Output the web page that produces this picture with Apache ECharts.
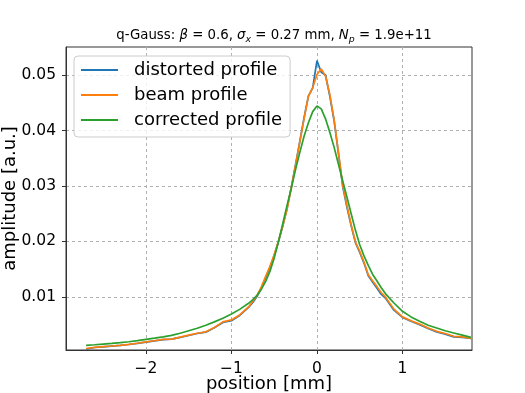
<!DOCTYPE html>
<html>
<head>
<meta charset="utf-8">
<script src="https://cdn.jsdelivr.net/npm/echarts@6/dist/echarts.min.js"></script>
<style>html,body{margin:0;padding:0;background:#fff}#c{width:525px;height:393px}</style>
</head>
<body>
<div id="c"></div>
<script>
const positions = [-2.7,-2.6,-2.5,-2.4,-2.3,-2.2,-2.1,-2.0,-1.9,-1.8,-1.7,-1.6,-1.5,-1.4,-1.3,-1.2,-1.1,-1.0,-0.9,-0.8,
  -0.75,-0.7,-0.65,-0.6,-0.55,-0.5,-0.45,-0.4,-0.35,-0.3,-0.25,-0.2,-0.15,-0.1,-0.05,0,0.05,0.1,0.15,0.2,0.25,0.3,0.35,0.4,0.45,0.5,0.55,0.6,0.65,0.7,0.75,0.8,
  0.9,1.0,1.1,1.2,1.3,1.4,1.5,1.6,1.7,1.8];
const distorted = [0.00060,0.00088,0.00100,0.00113,0.00126,0.00142,0.00163,0.00186,0.00208,0.00230,0.00238,0.00270,0.00305,0.00340,0.00365,0.00445,0.00540,0.00570,0.00670,0.00810,
  0.0090,0.0101,0.0116,0.0135,0.0153,0.0175,0.0200,0.0228,0.0259,0.0298,0.0339,0.0381,0.0424,0.0462,0.0477,0.0526,0.0505,0.0500,0.0462,0.0418,0.0360,0.0300,0.0262,0.0228,0.0198,0.0180,0.0161,0.0138,0.0127,0.0116,0.0105,0.0098,
  0.0076,0.0063,0.0056,0.0050,0.0043,0.0037,0.0033,0.0028,0.0027,0.0025];
const beam = [0.00070,0.00090,0.00103,0.00115,0.00128,0.00145,0.00165,0.00190,0.00210,0.00235,0.00240,0.00275,0.00310,0.00345,0.00370,0.00450,0.00550,0.00585,0.00680,0.00820,
  0.0092,0.0103,0.0118,0.0137,0.0155,0.0176,0.0201,0.0228,0.0258,0.0297,0.0338,0.0380,0.0422,0.0462,0.0477,0.0501,0.0511,0.0498,0.0465,0.0420,0.0362,0.0302,0.0265,0.0230,0.0199,0.0182,0.0163,0.0140,0.0129,0.0119,0.0108,0.0100,
  0.0078,0.0064,0.0057,0.0051,0.0044,0.0038,0.0034,0.0029,0.0028,0.0025];
const corrected = [0.00128,0.00138,0.00150,0.00162,0.00176,0.00192,0.00212,0.00234,0.00256,0.00280,0.00308,0.00345,0.00390,0.00435,0.00490,0.00550,0.00615,0.00690,0.00780,0.00885,
  0.0095,0.0103,0.0114,0.0128,0.0146,0.0170,0.0200,0.0232,0.0265,0.0296,0.0330,0.0361,0.0390,0.0414,0.0434,0.0444,0.0439,0.0421,0.0397,0.0370,0.0340,0.0310,0.0280,0.0250,0.0220,0.0194,0.0174,0.0157,0.0141,0.0129,0.0117,0.0106,
  0.0089,0.0074,0.0064,0.0056,0.0049,0.0044,0.0039,0.0035,0.0031,0.0027];
const seriesNames = ['distorted profile','beam profile','corrected profile'];
const xTicks = [-2,-1,0,1];
const yTicks = [0.01,0.02,0.03,0.04,0.05];

const chart = echarts.init(document.getElementById('c'), null, {renderer:'canvas'});
const font = 'DejaVu Sans';
const pair = arr => positions.map((x,i)=>[x,arr[i]]);
chart.setOption({
  animation:false,
  backgroundColor:'#fff',
  title:{
    text:'{n|q-Gauss: }{i|β}{n| = 0.6, }{i|σ}{s|x}{n| = 0.27 mm, }{i|N}{s|p}{n| = 1.9e+11}',
    left:269, top:23, textAlign:'center',
    textStyle:{
      fontWeight:'normal',
      rich:{
        n:{fontFamily:font,fontSize:13.3,fontWeight:'normal',color:'#000'},
        i:{fontFamily:font,fontSize:13.3,fontStyle:'italic',fontWeight:'normal',color:'#000'},
        s:{fontFamily:font,fontSize:9.4,fontStyle:'italic',fontWeight:'normal',color:'#000',padding:[7,0,0,0]}
      }
    }
  },
  grid:{left:66,right:53,top:47,bottom:43,outerBoundsMode:'none',containLabel:false,show:true,borderColor:'#333',borderWidth:1,backgroundColor:'transparent'},
  legend:{
    data:seriesNames,
    orient:'vertical',left:74,top:56,
    icon:'rect',
    itemWidth:37,itemHeight:2,itemGap:7,
    padding:[5,8,8,7],
    backgroundColor:'rgba(255,255,255,0.8)',
    borderColor:'#cccccc',borderWidth:1,borderRadius:4,
    textStyle:{fontFamily:font,fontSize:18,color:'#000',padding:[0,0,0,11]}
  },
  xAxis:{
    type:'value',min:-2.935,max:1.813,
    name:'position [mm]',nameLocation:'middle',nameGap:25,nameMoveOverlap:false,
    nameTextStyle:{fontFamily:font,fontSize:18,color:'#000'},
    axisLine:{show:true,onZero:false,lineStyle:{color:'#333',width:1}},
    axisTick:{show:true,inside:false,length:4,customValues:xTicks,lineStyle:{color:'#333'}},
    axisLabel:{customValues:xTicks,fontFamily:font,fontSize:15.5,color:'#000',margin:11,
      formatter:v=>(v<0?'\u2212'+Math.abs(v):String(v))},
    splitLine:{show:true,customValues:xTicks,lineStyle:{color:'#b0b0b0',type:[3,3],width:1}}
  },
  yAxis:{
    type:'value',min:0.00043,max:0.05505,
    name:'amplitude [a.u.]',nameLocation:'middle',nameGap:47,nameRotate:90,nameMoveOverlap:false,
    nameTextStyle:{fontFamily:font,fontSize:18,color:'#000'},
    axisLine:{show:true,onZero:false,lineStyle:{color:'#333',width:1}},
    axisTick:{show:true,inside:false,length:4,customValues:yTicks,lineStyle:{color:'#333'}},
    axisLabel:{customValues:yTicks,fontFamily:font,fontSize:15.5,color:'#000',margin:10,
      formatter:v=>v.toFixed(2)},
    splitLine:{show:true,customValues:yTicks,lineStyle:{color:'#b0b0b0',type:[3,3],width:1}}
  },
  series:[
    {name:seriesNames[0],type:'line',data:pair(distorted),symbol:'none',lineStyle:{color:'#1f77b4',width:1.7},itemStyle:{color:'#1f77b4'}},
    {name:seriesNames[1],type:'line',data:pair(beam),symbol:'none',lineStyle:{color:'#ff7f0e',width:1.7},itemStyle:{color:'#ff7f0e'}},
    {name:seriesNames[2],type:'line',data:pair(corrected),symbol:'none',lineStyle:{color:'#2ca02c',width:1.7},itemStyle:{color:'#2ca02c'}}
  ]
});
</script>
</body>
</html>
